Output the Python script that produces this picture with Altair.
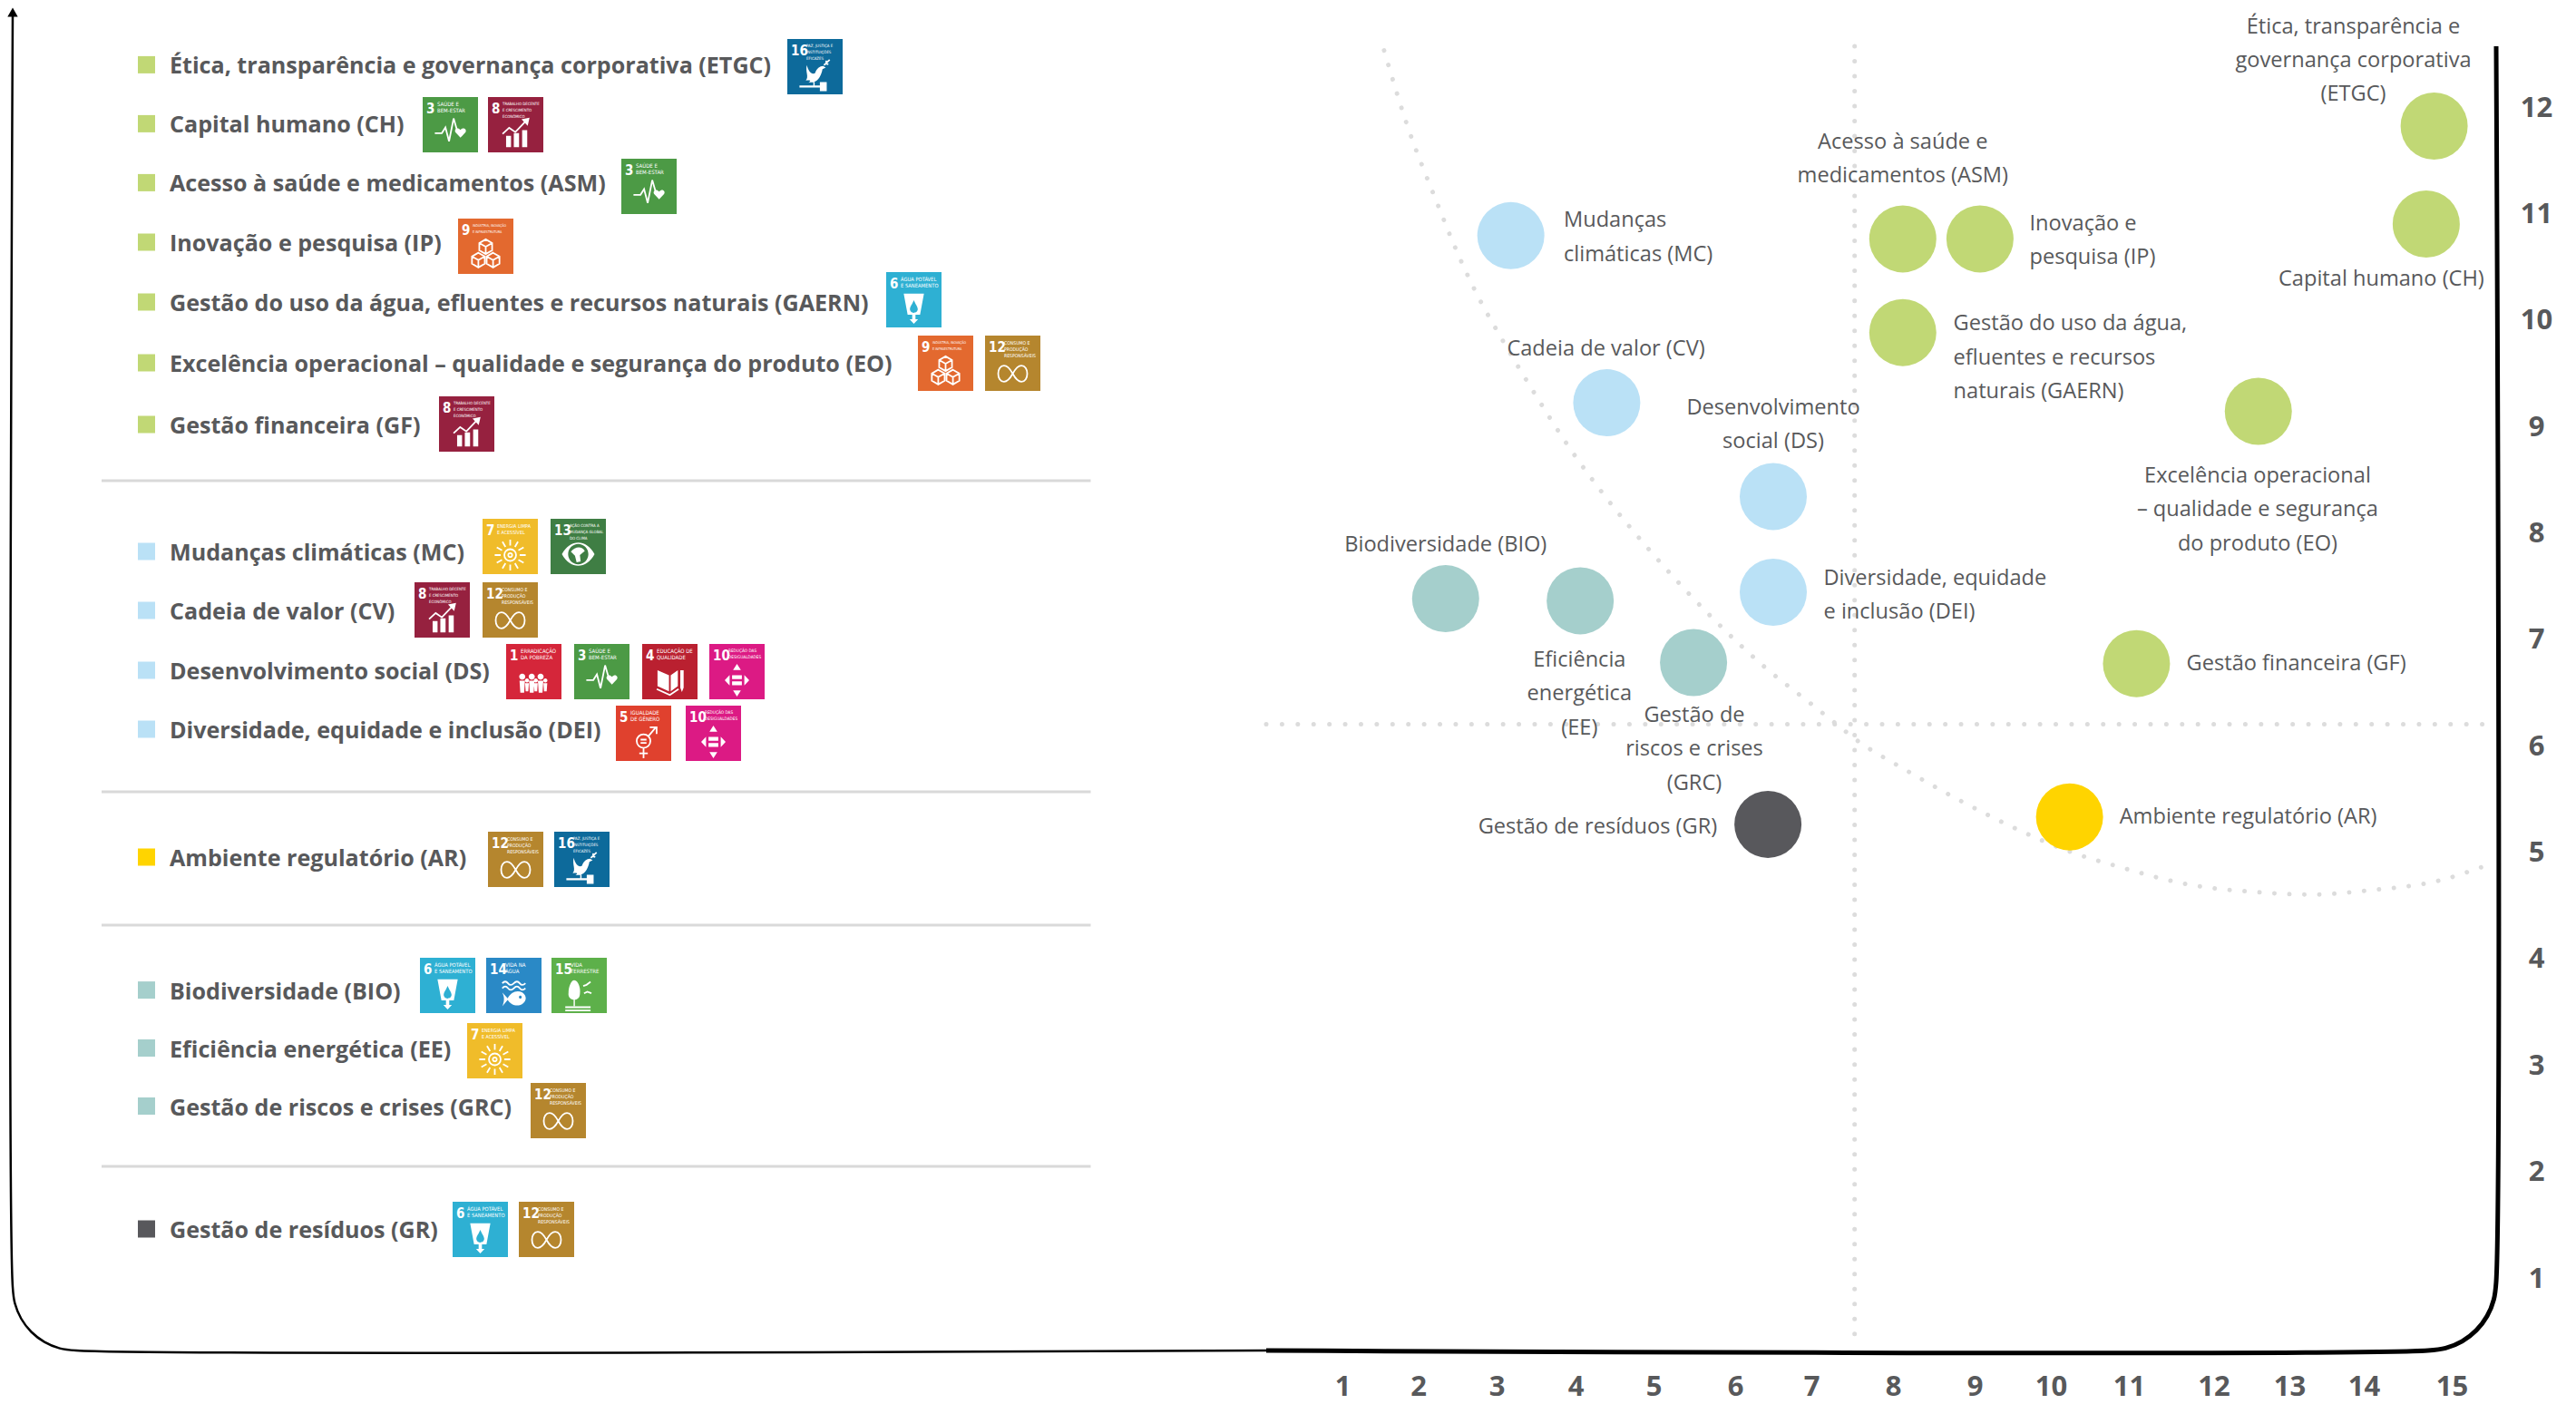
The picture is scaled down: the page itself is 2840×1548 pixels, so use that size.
import math
import altair as alt
import pandas as pd

FONT = "Open Sans"
NARROW = "DejaVu Sans Condensed, Liberation Sans Narrow, Liberation Sans"
INK = "#58595B"
GREEN, BLUE, TEAL, YELLOW, DARK = "#C1D875", "#BAE1F6", "#A5CFCC", "#FFD400", "#58585C"

# ---------- data: material themes and their SDG goals ----------
THEMES = [
    "Ética, transparência e governança corporativa (ETGC)",
    "Capital humano (CH)",
    "Acesso à saúde e medicamentos (ASM)",
    "Inovação e pesquisa (IP)",
    "Gestão do uso da água, efluentes e recursos naturais (GAERN)",
    "Excelência operacional – qualidade e segurança do produto (EO)",
    "Gestão financeira (GF)",
    "Mudanças climáticas (MC)",
    "Cadeia de valor (CV)",
    "Desenvolvimento social (DS)",
    "Diversidade, equidade e inclusão (DEI)",
    "Ambiente regulatório (AR)",
    "Biodiversidade (BIO)",
    "Eficiência energética (EE)",
    "Gestão de riscos e crises (GRC)",
    "Gestão de resíduos (GR)",
]
THEME_COLORS = [GREEN] * 7 + [BLUE] * 4 + [YELLOW] + [TEAL] * 3 + [DARK]
THEME_GOALS = [[16], [3, 8], [3], [9], [6], [9, 12], [8], [7, 13], [8, 12], [1, 3, 4, 10],
               [5, 10], [12, 16], [6, 14, 15], [7], [12], [6, 12]]

# ---------- data: matrix (influence x impact) ----------
BUB_X = [14.80, 14.71, 8.12, 9.07, 8.12, 12.59, 11.09, 3.18, 4.40, 6.50, 6.50, 10.24, 2.35, 4.06, 5.49, 6.43]
BUB_Y = [11.83, 10.91, 10.77, 10.77, 9.89, 9.15, 6.78, 10.80, 9.23, 8.35, 7.45, 5.34, 7.39, 7.37, 6.79, 5.27]

LABEL_TEXT = [
    "Ética, transparência e\ngovernança corporativa\n(ETGC)", "Capital humano (CH)",
    "Acesso à saúde e\nmedicamentos (ASM)", "Inovação e\npesquisa (IP)",
    "Gestão do uso da água,\nefluentes e recursos\nnaturais (GAERN)",
    "Excelência operacional\n– qualidade e segurança\ndo produto (EO)", "Gestão financeira (GF)",
    "Mudanças\nclimáticas (MC)", "Cadeia de valor (CV)", "Desenvolvimento\nsocial (DS)",
    "Diversidade, equidade\ne inclusão (DEI)", "Ambiente regulatório (AR)", "Biodiversidade (BIO)",
    "Eficiência\nenergética\n(EE)", "Gestão de\nriscos e crises\n(GRC)", "Gestão de resíduos (GR)",
]
LABEL_ALIGN = ["center", "center", "center", "left", "left", "center", "left", "left", "center", "center",
               "left", "left", "center", "center", "center", "right"]
LABEL_X = [13.86, 14.20, 8.12, 9.72, 8.74, 12.58, 11.68, 3.85, 4.39, 6.50, 7.15, 10.88, 2.35, 4.05, 5.50, 5.78]
LABEL_Y = [12.76, 10.39, 11.68, 10.91, 9.97, 8.54, 6.78, 10.94, 9.73, 9.18, 7.58, 5.34, 7.89, 6.81, 6.29, 5.24]

CURVE_X = [1.55, 1.84, 2.24, 2.53, 2.77, 3.05, 3.43, 3.93, 4.38, 4.98, 5.72, 6.40, 7.00, 7.31, 7.54, 8.18,
           8.83, 9.60, 10.22, 10.88, 11.67, 12.63, 13.29, 14.06, 14.85, 15.41]
CURVE_Y = [12.54, 11.87, 11.11, 10.59, 10.22, 9.85, 9.38, 8.80, 8.35, 7.82, 7.21, 6.74, 6.40, 6.21, 6.07, 5.77,
           5.49, 5.21, 5.02, 4.87, 4.71, 4.63, 4.61, 4.65, 4.74, 4.89]

X_TICKS = list(range(1, 16))
Y_TICKS = list(range(1, 13))

# ---------- SDG badges ----------
GOAL_COLORS = {1: "#D5263A", 3: "#4C9A45", 4: "#BA2030", 5: "#E0412E", 6: "#2EB0D3", 7: "#F0BC2A", 8: "#96213F",
               9: "#E3692F", 10: "#DC1A84", 12: "#B5862E", 13: "#3F7E44", 14: "#2A89C6", 15: "#5DB04A", 16: "#0D6A9B"}
GOAL_TITLES = {
    1: "ERRADICAÇÃO\nDA POBREZA", 3: "SAÚDE E\nBEM-ESTAR", 4: "EDUCAÇÃO DE\nQUALIDADE", 5: "IGUALDADE\nDE GÊNERO",
    6: "ÁGUA POTÁVEL\nE SANEAMENTO", 7: "ENERGIA LIMPA\nE ACESSÍVEL",
    8: "TRABALHO DECENTE\nE CRESCIMENTO\nECONÔMICO", 9: "INDÚSTRIA, INOVAÇÃO\nE INFRAESTRUTURA",
    10: "REDUÇÃO DAS\nDESIGUALDADES", 12: "CONSUMO E\nPRODUÇÃO\nRESPONSÁVEIS",
    13: "AÇÃO CONTRA A\nMUDANÇA GLOBAL\nDO CLIMA", 14: "VIDA NA\nÁGUA", 15: "VIDA\nTERRESTRE",
    16: "PAZ, JUSTIÇA E\nINSTITUIÇÕES\nEFICAZES",
}


def circle(cx, cy, r, rev=False):
    sweep = 0 if rev else 1
    return (f"M{cx - r:.3f} {cy:.3f}A{r} {r} 0 1 {sweep} {cx + r:.3f} {cy:.3f}"
            f"A{r} {r} 0 1 {sweep} {cx - r:.3f} {cy:.3f}Z")


def cube(cx, cy, r):
    c, s = 0.87 * r, 0.5 * r
    return (f"M{cx:.3f} {cy - r:.3f}L{cx + c:.3f} {cy - s:.3f}L{cx + c:.3f} {cy + s:.3f}L{cx:.3f} {cy + r:.3f}"
            f"L{cx - c:.3f} {cy + s:.3f}L{cx - c:.3f} {cy - s:.3f}Z"
            f"M{cx:.3f} {cy:.3f}L{cx:.3f} {cy + r:.3f}M{cx:.3f} {cy:.3f}L{cx - c:.3f} {cy - s:.3f}"
            f"M{cx:.3f} {cy:.3f}L{cx + c:.3f} {cy - s:.3f}")


def rays(n, r1, r2):
    out = ""
    for k in range(n):
        a = 2 * math.pi * k / n
        out += f"M{r1 * math.cos(a):.3f} {r1 * math.sin(a):.3f}L{r2 * math.cos(a):.3f} {r2 * math.sin(a):.3f}"
    return out


def person(cx, top, h, w):
    r = h * 0.16
    return (circle(cx, top + r, r) +
            f"M{cx - w:.3f} {top + 2.3 * r:.3f}H{cx + w:.3f}L{cx + w * 0.7:.3f} {top + h:.3f}H{cx - w * 0.7:.3f}Z")


INFINITY = ("M0 0C.25 -.45 .45 -.55 .6 -.55C.85 -.55 1 -.3 1 0C1 .3 .85 .55 .6 .55C.45 .55 .25 .45 0 0"
            "C-.25 -.45 -.45 -.55 -.6 -.55C-.85 -.55 -1 -.3 -1 0C-1 .3 -.85 .55 -.6 .55C-.45 .55 -.25 .45 0 0Z")
# goal: (filled path, stroked path, icon side, vertical centre inside the badge)
ICONS = {
    1: ("".join(person(x, -.55 if i % 2 == 0 else -.2, 1.4 if i % 2 == 0 else .95, .2 if i % 2 == 0 else .14)
                for i, x in enumerate([-.85, -.5, -.15, .15, .5, .85])), "", 30, 41),
    3: ("M.62 .38L.32 .06C.2 -.12 .42 -.32 .62 -.1C.82 -.32 1.04 -.12 .92 .06Z",
        "M-.95 .1L-.52 .1L-.3 -.25L-.08 .6L.2 -.8L.45 .05", 36, 38),
    4: ("M-.85 -.75L-.06 -.4V.7L-.85 .35ZM.06 -.4L.55 -.75V.35L.06 .7ZM.72 -.75H.95V.45L.83 .75L.72 .45Z",
        "M-.9 .55L0 .95L.6 .55", 32, 41),
    5: ("", circle(0, -.05, .42) + "M.3 -.35L.72 -.85M.38 -.9H.8V-.48M0 .37V1M-.26 .7H.26M-.18 -.14H.18M-.18 .06H.18", 36, 40),
    6: ("M-.62 -.85H.62L.38 .45H.1V.72H.26L0 1L-.26 .72H-.1V.45H-.38Z"
        "M0 -.45C-.1 -.2 -.24 -.05 -.24 .1C-.24 .26 -.1 .33 0 .33C.1 .33 .24 .26 .24 .1C.24 -.05 .1 -.2 0 -.45Z",
        "", 36, 39),
    7: ("", circle(0, 0, .36) + rays(12, .58, .95) + circle(0, 0, .12), 36, 40),
    8: ("M-.62 .95V.22H-.3V.95ZM-.12 .95V.05H.22V.95ZM.42 .95V-.15H.75V.95ZM.9 -.95L.38 -.85L.78 -.42Z",
        "M-.85 .1L-.42 -.3L-.02 -.02L.72 -.8", 34, 39),
    9: ("", cube(0, -.5, .45) + cube(-.45, .32, .45) + cube(.45, .32, .45), 36, 40),
    10: ("M-.3 -.3H.3V-.07H-.3ZM-.3 .07H.3V.3H-.3ZM0 -1L.24 -.62H-.24ZM0 1L-.24 .62H.24Z"
         "M-.75 0L-.45 -.32V.32ZM.75 0L.45 .32V-.32Z", "", 36, 40),
    12: ("", INFINITY, 32, 42),
    13: ("M-1 0C-.5 -.95 .5 -.95 1 0C.5 .95 -.5 .95 -1 0Z" + circle(0, 0, .62, rev=True) +
         "M-.45 -.15C-.2 -.5 .25 -.5 .4 -.2L.1 .05L.15 .45L-.1 .5L-.2 .1Z", "", 36, 39),
    14: ("M-.75 -.1L-.4 .28C-.2 -.12 .2 -.3 .55 -.1C.85 .1 .85 .45 .55 .65C.2 .85 -.2 .7 -.4 .38L-.75 .8"
         "C-.6 .45 -.6 .2 -.75 -.1Z" + circle(.42, .2, .09, rev=True),
         "M-.75 -.7Q-.55 -.92 -.38 -.7T0 -.7T.38 -.7T.75 -.7M-.75 -.38Q-.55 -.6 -.38 -.38T0 -.38T.38 -.38T.75 -.38", 34, 40),
    15: ("M-.3 -.9C-.05 -.9 .1 -.4 .05 -.1C.05 .2 -.15 .3 -.3 .3C-.5 .3 -.7 .15 -.65 -.15C-.65 -.45 -.5 -.9 -.3 -.9Z"
         "M-.34 .3H-.26V.68H-.34ZM-.85 .7H.7V.8H-.85ZM-.85 .9H.7V1H-.85Z",
         "M.25 -.55L.45 -.62L.7 -.8M.3 -.1L.5 -.2L.75 -.1", 36, 41),
    16: ("M-.5 -.62C-.4 -.22 -.2 -.02 0 -.12C.1 -.42 .3 -.57 .5 -.57L.66 -.47L.46 -.37C.4 0 .2 .35 -.08 .42L-.4 .44"
         "C-.2 .32 -.3 .27 -.56 .32C-.35 .1 -.6 -.2 -.5 -.62Z"
         "M-.95 .63H.3V.75H-.95ZM.3 .42H.72V.97H.3ZM-.1 .42H-.02V.63H-.1Z",
         "M.55 -.62L.9 -.95M.66 -.72L.82 -.68M.7 -.9L.68 -.76", 36, 40),
}

# ---------- layout of the list panel, read in page pixels ----------
PANEL_LEFT, LIST_W, PANEL_TOP, PANEL_H, MATRIX_W = 8, 1388, 8, 1481, 1356
ROW_Y = [71.4, 136.4, 201.4, 267, 333, 400, 468, 608, 673, 739, 804, 945, 1091.6, 1155.5, 1219.5, 1355]
BADGE_X = [[868], [466, 538], [685], [505], [977], [1012, 1086], [484], [532, 607], [457, 532],
           [558, 633, 708, 782], [679, 756], [538, 611], [463, 536, 608], [515], [585], [499, 572]]
BADGE_TOP = [43, 107, 175, 241, 300, 370, 437, 572, 642, 710, 778, 917, 1056, 1128, 1194, 1325]
BADGE_SIDE = 61
SEPARATOR_Y = [530, 873, 1020, 1286]
AXIS_X = [14, 14, 16.4, 23.4, 34.5, 49, 65.9, 84, 1396]
AXIS_Y = [14, 1419, 1437, 1454, 1468.5, 1479.6, 1486.6, 1489, 1489]

list_x = alt.Scale(domain=[PANEL_LEFT, PANEL_LEFT + LIST_W], range=[0, LIST_W])
list_y = alt.Scale(domain=[PANEL_TOP, PANEL_TOP + PANEL_H], range=[0, PANEL_H])


def lx(field):
    return alt.X(f"{field}:Q", scale=list_x, axis=None)


def ly(field):
    return alt.Y(f"{field}:Q", scale=list_y, axis=None)


rows = pd.DataFrame({"theme": THEMES, "color": THEME_COLORS, "y": ROW_Y})
rows["y0"] = rows.y - 9.5
rows["y1"] = rows.y + 9.5
rows["x0"], rows["x1"] = 152, 171
rows["tx"] = 187
rows["ty"] = rows.y + 2

recs = []
for xs, goals, top in zip(BADGE_X, THEME_GOALS, BADGE_TOP):
    for bx, goal in zip(xs, goals):
        fill_path, stroke_path, side, cy = ICONS[goal]
        lines = GOAL_TITLES[goal].split("\n")
        offset = 21 if goal >= 10 else 16
        room = BADGE_SIDE - offset - 2
        recs.append({
            "x0": bx, "x1": bx + BADGE_SIDE, "y0": top, "y1": top + BADGE_SIDE,
            "color": GOAL_COLORS[goal], "num": str(goal),
            "nx": bx + 4, "ny": top + 12.5,
            "tx": bx + offset, "ty": top + 8,
            "title": GOAL_TITLES[goal],
            "tsize": min(6.0, room / (0.62 * max(len(s) for s in lines))),
            "ix": bx + BADGE_SIDE / 2, "iy": top + cy, "isize": side * side,
            "fillp": fill_path, "strokep": stroke_path,
        })
badges = pd.DataFrame(recs)

seps = pd.DataFrame({"y": SEPARATOR_Y, "x0": 112, "x1": 1202.5})
left_axis = pd.DataFrame({"x": AXIS_X, "y": AXIS_Y, "i": range(len(AXIS_X))})
arrow = pd.DataFrame({"x": [14], "y": [13.5]})

list_panel = alt.layer(
    alt.Chart(left_axis).mark_line(color="#000000", strokeWidth=2.5, interpolate="catmull-rom").encode(
        x=lx("x"), y=ly("y"), order="i:Q"),
    alt.Chart(arrow).mark_point(shape="triangle-up", filled=True, color="#000000", size=130, opacity=1).encode(
        x=lx("x"), y=ly("y")),
    alt.Chart(seps).mark_rule(color="#D9D9D9", strokeWidth=3).encode(x=lx("x0"), x2="x1:Q", y=ly("y")),
    alt.Chart(rows).mark_rect().encode(
        x=lx("x0"), x2="x1:Q", y=ly("y0"), y2="y1:Q", color=alt.Color("color:N", scale=None)),
    alt.Chart(rows).mark_text(align="left", baseline="middle", font=FONT, fontWeight=700, fontSize=25.1, color=INK).encode(
        x=lx("tx"), y=ly("ty"), text="theme:N"),
    alt.Chart(badges).mark_rect().encode(
        x=lx("x0"), x2="x1:Q", y=ly("y0"), y2="y1:Q", color=alt.Color("color:N", scale=None)),
    alt.Chart(badges).mark_text(align="left", baseline="middle", font=NARROW, fontWeight="bold", fontSize=15, color="#FFFFFF").encode(
        x=lx("nx"), y=ly("ny"), text="num:N"),
    alt.Chart(badges).mark_text(align="left", baseline="middle", font=NARROW, lineHeight=6.8,
                                lineBreak="\n", color="#FFFFFF").encode(
        x=lx("tx"), y=ly("ty"), text="title:N", size=alt.Size("tsize:Q", scale=None)),
    alt.Chart(badges[badges.fillp != ""]).mark_point(filled=True, color="#FFFFFF", opacity=1).encode(
        x=lx("ix"), y=ly("iy"), shape=alt.Shape("fillp:N", scale=None),
        size=alt.Size("isize:Q", scale=None)),
    alt.Chart(badges[badges.strokep != ""]).mark_point(filled=False, color="#FFFFFF", opacity=1, strokeWidth=1.8).encode(
        x=lx("ix"), y=ly("iy"), shape=alt.Shape("strokep:N", scale=None),
        size=alt.Size("isize:Q", scale=None)),
).properties(width=LIST_W, height=PANEL_H)

# ---------- matrix panel ----------
# tick positions in the picture are slightly uneven, so the x scale is piecewise
mx = alt.Scale(domain=[0] + X_TICKS + [15.5],
               range=[0, 84, 167.5, 254, 341, 427, 517, 601, 691, 781, 865, 951, 1044.5, 1128, 1210, 1307, MATRIX_W])
my = alt.Scale(domain=[0.327, 12.946], range=[PANEL_H, 0])

x_axis = alt.Axis(values=X_TICKS, orient="bottom", domain=False, ticks=False, grid=False, title=None,
                  labelFont=FONT, labelFontWeight=700, labelFontSize=31, labelColor=INK, labelPadding=40,
                  labelBaseline="middle", labelAngle=0, labelOverlap=False, format="d", labelFlush=False)
y_axis = alt.Axis(values=Y_TICKS, orient="right", domain=False, ticks=False, grid=False, title=None,
                  labelFont=FONT, labelFontWeight=700, labelFontSize=31, labelColor=INK, labelPadding=44,
                  labelAlign="center", labelOverlap=False, format="d", labelFlush=False)


def mX(field):
    return alt.X(f"{field}:Q", scale=mx, axis=x_axis)


def mY(field):
    return alt.Y(f"{field}:Q", scale=my, axis=y_axis)


bubbles = pd.DataFrame({"x": BUB_X, "y": BUB_Y, "color": THEME_COLORS})
labels = pd.DataFrame({"x": LABEL_X, "y": LABEL_Y, "text": LABEL_TEXT, "align": LABEL_ALIGN})
curve = pd.DataFrame({"x": CURVE_X, "y": CURVE_Y})
frame = pd.DataFrame({
    "x": [0, 14.73, 14.93, 15.117, 15.276, 15.398, 15.473, 15.5, 15.5],
    "y": [0.327, 0.327, 0.349, 0.413, 0.516, 0.65, 0.806, 0.974, 12.58],
})
frame["i"] = range(len(frame))
cross_v = pd.DataFrame({"x": [7.53], "y": [12.58], "y2": [0.45]})
cross_h = pd.DataFrame({"x": [0.0], "x2": [15.5], "y": [6.21]})
DOTS = [0.01, 16.5]


def label_layer(align):
    return alt.Chart(labels[labels["align"] == align]).mark_text(
        align=align, baseline="middle", font=FONT, fontSize=23.6, lineHeight=37.3, lineBreak="\n", color=INK
    ).encode(x=mX("x"), y=mY("y"), text="text:N")


matrix_panel = alt.layer(
    alt.Chart(cross_v).mark_rule(color="#DCDCDC", strokeWidth=5, strokeDash=DOTS, strokeCap="round").encode(
        x=mX("x"), y=mY("y"), y2="y2:Q"),
    alt.Chart(cross_h).mark_rule(color="#DCDCDC", strokeWidth=5, strokeDash=[0.01, 17.4], strokeCap="round").encode(
        x=mX("x"), x2="x2:Q", y=mY("y")),
    alt.Chart(curve).mark_line(color="#DCDCDC", strokeWidth=5, strokeDash=DOTS, strokeCap="round",
                               interpolate="monotone").encode(x=mX("x"), y=mY("y")),
    alt.Chart(frame).mark_line(color="#000000", strokeWidth=5, interpolate="catmull-rom").encode(
        x=mX("x"), y=mY("y"), order="i:Q"),
    alt.Chart(bubbles).mark_point(filled=True, opacity=1, size=5476, shape="circle").encode(
        x=mX("x"), y=mY("y"), color=alt.Color("color:N", scale=None)),
    label_layer("center"),
    label_layer("left"),
    label_layer("right"),
).properties(width=MATRIX_W, height=PANEL_H)

chart = alt.hconcat(list_panel, matrix_panel, spacing=0, bounds="flush",
                    padding={"left": -2, "top": 0, "right": 0, "bottom": 0}).configure_view(stroke=None)
chart.save("out.html", embed_options={"renderer": "svg", "actions": False})
